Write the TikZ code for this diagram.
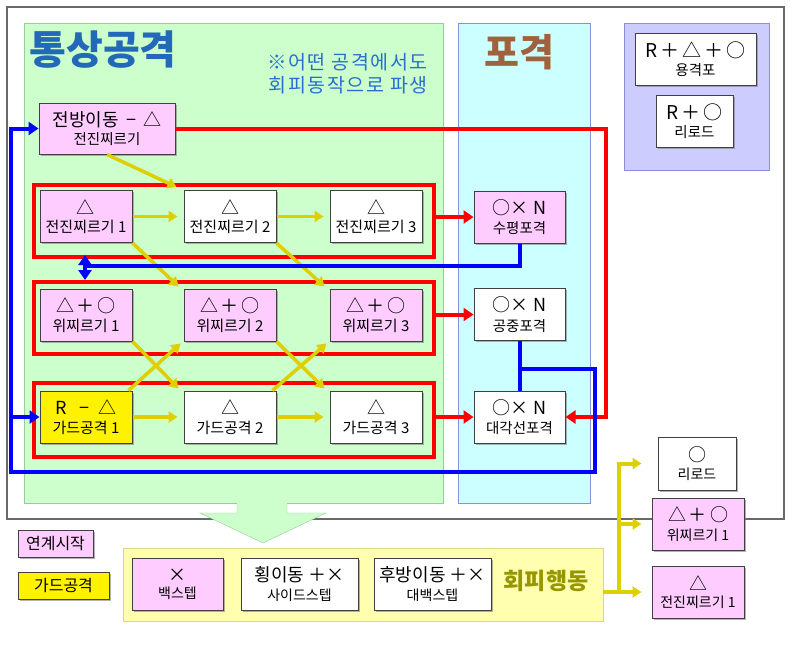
\documentclass[tikz,border=0pt]{standalone}
\usepackage{fontspec}
\setmainfont{Noto Sans CJK KR}
\usetikzlibrary{arrows.meta, shadows}
\definecolor{panelgreen}{RGB}{204,255,204}
\definecolor{greenedge}{RGB}{150,205,150}
\definecolor{panelcyan}{RGB}{204,255,255}
\definecolor{panelpurple}{RGB}{204,204,255}
\definecolor{panelblueedge}{RGB}{140,140,225}
\definecolor{evadeyellow}{RGB}{255,255,175}
\definecolor{evadeedge}{RGB}{215,215,140}
\definecolor{boxpink}{RGB}{255,204,255}
\definecolor{arrowyellow}{RGB}{222,208,0}
\definecolor{titleblue}{RGB}{35,105,185}
\definecolor{noteblue}{RGB}{40,110,210}
\definecolor{titlebrown}{RGB}{160,98,60}
\definecolor{evadeolive}{RGB}{150,150,0}
\definecolor{framegray}{RGB}{105,105,105}
\newcommand{\symline}{\fontsize{18}{21}\selectfont}
\newcommand{\rowline}{\fontsize{15}{18}\selectfont}
\newcommand{\lblline}{\fontsize{14.5}{17}\selectfont}
\tikzset{
    box/.style={draw=black!75, line width=1pt, minimum width=92pt, minimum height=52pt, align=center, inner sep=1pt, drop shadow={shadow xshift=1.6pt, shadow yshift=-1.6pt, opacity=.6}},
    pinkbox/.style={box, fill=boxpink},
    whitebox/.style={box, fill=white},
    yellowbox/.style={box, fill=yellow},
    redframe/.style={draw=red, line width=4pt, minimum width=400pt, inner sep=0pt},
    yarrow/.style={draw=arrowyellow, line width=3.5pt, -{Triangle[width=11pt,length=9pt]}},
    rline/.style={draw=red, line width=4pt},
    rarrow/.style={rline, -{Triangle[width=13pt,length=10pt]}},
    bline/.style={draw=blue, line width=4pt},
    barrow/.style={bline, -{Triangle[width=13pt,length=10pt]}},
    bdouble/.style={bline, {Triangle[width=13pt,length=10pt]}-{Triangle[width=13pt,length=10pt]}}
}
\begin{document}
\begin{tikzpicture}[x=1pt, y=-1pt]
\useasboundingbox (0,0) rectangle (792,654);
% panels
\draw[framegray, line width=1.2pt, fill=white] (7,7) rectangle (784,519);
\draw[greenedge, fill=panelgreen] (24,23) rectangle (443,503);
\draw[panelblueedge, fill=panelcyan] (458,23) rectangle (590,503);
\draw[panelblueedge, fill=panelpurple] (624,23) rectangle (769,170);
\node[text=titleblue, font=\fontsize{40}{44}\selectfont\bfseries] (normal) at (103,50) {통상공격};
\node[text=titlebrown, font=\fontsize{38}{42}\selectfont\bfseries] (shelling) at (519,52) {포격};
\node[anchor=north east, align=right, text=noteblue, font=\fontsize{19.5}{23}\selectfont\addfontfeature{LetterSpace=8}] (note) at (431,50) {※어떤 공격에서도\hspace{18pt}\\회피동작으로 파생};

% combo rows
\node[redframe, minimum height=72pt] (row1) at (234,221) {};
\node[redframe, minimum height=72pt] (row2) at (234,318) {};
\node[redframe, minimum height=74pt] (row3) at (234,420) {};

\node[pinkbox, minimum width=136pt, minimum height=51pt] (jeonbang) at (107,128.5) {\symline 전방이동 \,−\, △\\[4pt]\lblline 전진찌르기};
\node[pinkbox] (jin1) at (86,216.5) {\symline △\\[5pt]\rowline 전진찌르기 1};
\node[whitebox] (jin2) at (230,216.5) {\symline △\\[5pt]\rowline 전진찌르기 2};
\node[whitebox] (jin3) at (376,216.5) {\symline △\\[5pt]\rowline 전진찌르기 3};
\node[pinkbox] (wi1) at (86,315) {\symline △\,＋\,○\\[5pt]\rowline 위찌르기 1};
\node[pinkbox] (wi2) at (230,315) {\symline △\,＋\,○\\[5pt]\rowline 위찌르기 2};
\node[pinkbox] (wi3) at (376,315) {\symline △\,＋\,○\\[5pt]\rowline 위찌르기 3};
\node[yellowbox] (guard1) at (86,417) {\symline R \enspace−\enspace △\\[5pt]\rowline 가드공격 1};
\node[whitebox] (guard2) at (230,417) {\symline △\\[5pt]\rowline 가드공격 2};
\node[whitebox] (guard3) at (376,417) {\symline △\\[5pt]\rowline 가드공격 3};

% shelling
\node[pinkbox, minimum width=91pt] (suhyeong) at (519.5,217) {\symline ○× N\\[5pt]\lblline 수평포격};
\node[whitebox, minimum width=91pt] (gongjung) at (519.5,314.5) {\symline ○× N\\[5pt]\lblline 공중포격};
\node[whitebox, minimum width=91pt] (daegak) at (519.5,417) {\symline ○× N\\[5pt]\lblline 대각선포격};

% purple panel
\node[whitebox, minimum width=121pt] (yonggyeok) at (695.5,59) {\fontsize{19}{22}\selectfont R\,＋\,△\,＋\,○\\[4pt]\lblline 용격포};
\node[whitebox, minimum width=77pt] (reloadR) at (694.5,121) {\fontsize{19}{22}\selectfont R\,＋\,○\\[4pt]\lblline 리로드};

% evade
\draw[evadeedge, fill=evadeyellow] (123,548) rectangle (603,621);
\node[inner sep=0pt, minimum width=480pt, minimum height=73pt] (evade) at (363,584.5) {};
\fill[panelgreen] (237,502) -- (237,513) -- (200,513) -- (263,543) -- (326,513) -- (287,513) -- (287,502) -- cycle;
\draw[greenedge] (237,504) -- (237,513) -- (200,513) -- (263,543) -- (326,513) -- (287,513) -- (287,504);
\node[pinkbox, minimum width=91pt] (backstep) at (177.5,584) {\symline ×\\[5pt]\fontsize{14}{17}\selectfont 백스텝};
\node[whitebox, minimum width=117pt] (sidestep) at (299.5,584) {\symline 횡이동 ＋×\\[5pt]\fontsize{14}{17}\selectfont 사이드스텝};
\node[whitebox, minimum width=117pt] (bigback) at (432.5,584) {\symline 후방이동 ＋×\\[5pt]\fontsize{14}{17}\selectfont 대백스텝};
\node[text=evadeolive, font=\fontsize{23}{26}\selectfont\bfseries] (evadetitle) at (546,581) {회피행동};

% legend
\node[pinkbox, minimum width=75pt, minimum height=27pt] (legpink) at (55.5,543.5) {\fontsize{16}{18}\selectfont 연계시작};
\node[yellowbox, minimum width=91pt, minimum height=27pt] (legyellow) at (63.5,585.5) {\fontsize{16}{18}\selectfont 가드공격};

% follow-ups
\node[whitebox, minimum width=78pt, minimum height=53pt] (reload) at (697,463.5) {\symline ○\\[5pt]\fontsize{14}{17}\selectfont 리로드};
\node[pinkbox] (wiR) at (698,524) {\symline △\,＋\,○\\[5pt]\fontsize{14}{17}\selectfont 위찌르기 1};
\node[pinkbox] (jinR) at (698,592) {\symline △\\[5pt]\fontsize{14}{17}\selectfont 전진찌르기 1};

% yellow arrows
\draw[yarrow] (jeonbang.south) -- ([shift={(-7,-3)}]jin2.north west);
\draw[yarrow] (jin1.east) -- ([xshift=-6pt]jin2.west);
\draw[yarrow] (jin2.east) -- ([xshift=-6pt]jin3.west);
\draw[yarrow] (jin1.south east) -- ([shift={(-5,-2)}]wi2.north west);
\draw[yarrow] (jin2.south east) -- ([shift={(-5,-2)}]wi3.north west);
\draw[yarrow] (wi1.south east) -- ([shift={(-5,-2)}]guard2.north west);
\draw[yarrow] (wi2.south east) -- ([shift={(-5,-2)}]guard3.north west);
\draw[yarrow] ([xshift=-4pt]guard1.north east) -- ([shift={(-3,2)}]wi2.south west);
\draw[yarrow] ([xshift=-4pt]guard2.north east) -- ([shift={(-3,2)}]wi3.south west);
\draw[yarrow] (guard1.east) -- ([xshift=-6pt]guard2.west);
\draw[yarrow] (guard2.east) -- ([xshift=-6pt]guard3.west);

% red arrows
\coordinate (redturn) at (606,0);
\draw[rarrow] (row1.east |- suhyeong.west) -- (suhyeong.west);
\draw[rarrow] (row2.east |- gongjung.west) -- (gongjung.west);
\draw[rarrow] (row3.east |- daegak.west) -- (daegak.west);
\draw[rarrow] (jeonbang.east) -| (redturn |- daegak.east) -- (daegak.east);

% blue lines
\coordinate (bsplit) at (519,369);
\coordinate (bright) at (595,472);
\coordinate (bleft) at (11,472);
\coordinate (bcross) at (85,266);
\draw[bline] (gongjung.south) -- (daegak.north);
\draw[barrow] (bsplit) -| (bright) -- (bleft) |- (jeonbang.west);
\draw[barrow] (bleft |- guard1.west) -- (guard1.west);
\draw[bline] (suhyeong.south) |- (bcross);
\draw[bdouble] ([yshift=4pt]bcross |- row1.south) -- (bcross |- row2.north);

% evade follow-ups
\coordinate (ysplit) at (619,592);
\draw[yarrow, line width=4pt] (evade.east |- jinR.west) -- ([xshift=-10pt]jinR.west);
\draw[yarrow, line width=4pt] (ysplit) |- ([xshift=-16pt]reload.west);
\draw[yarrow, line width=4pt] (ysplit |- wiR.west) -- ([xshift=-10pt]wiR.west);
\end{tikzpicture}
\end{document}
